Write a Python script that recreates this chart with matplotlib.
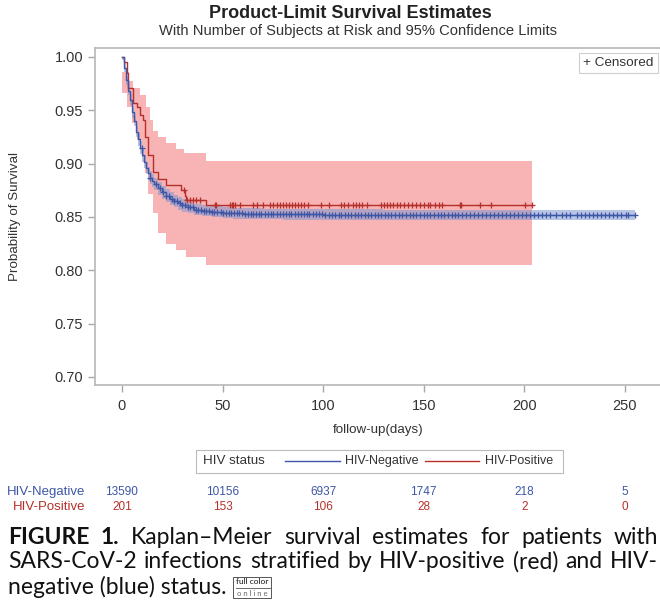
import numpy as np
import matplotlib
matplotlib.use("Agg")
import matplotlib.pyplot as plt
from matplotlib.patches import Rectangle
from matplotlib.lines import Line2D

# ---------------- data ----------------
neg_time = [0, 1, 2, 3, 4, 5, 6, 7, 8, 9, 10, 11, 12, 13, 14, 15, 16, 18, 20, 22, 24,
            26, 28, 30, 33, 36, 40, 45, 50, 55, 60, 70, 80, 100, 130, 160, 255]
neg_surv = [1.0, 0.990, 0.978, 0.968, 0.960, 0.948, 0.940, 0.930, 0.923, 0.915, 0.908,
            0.902, 0.896, 0.891, 0.887, 0.884, 0.881, 0.877, 0.873, 0.870, 0.867, 0.865,
            0.863, 0.861, 0.859, 0.857, 0.856, 0.855, 0.854, 0.8535, 0.853, 0.8527,
            0.8525, 0.8522, 0.8520, 0.8518, 0.8518]
neg_lower = [0.997, 0.986, 0.974, 0.964, 0.955, 0.943, 0.935, 0.925, 0.917, 0.909, 0.902,
             0.896, 0.890, 0.885, 0.881, 0.878, 0.875, 0.871, 0.867, 0.864, 0.861, 0.859,
             0.857, 0.855, 0.854, 0.852, 0.851, 0.850, 0.849, 0.8485, 0.848, 0.8477,
             0.8475, 0.8472, 0.8470, 0.8468, 0.8468]
neg_upper = [1.0, 0.994, 0.982, 0.972, 0.965, 0.953, 0.945, 0.935, 0.929, 0.921, 0.914,
             0.908, 0.902, 0.897, 0.893, 0.890, 0.887, 0.883, 0.879, 0.876, 0.873, 0.871,
             0.869, 0.867, 0.864, 0.862, 0.861, 0.860, 0.859, 0.8585, 0.858, 0.8577,
             0.8575, 0.8572, 0.8570, 0.8568, 0.8568]

pos_time = [0, 1, 2.3, 3, 5.5, 7.3, 9, 10.5, 11.4, 13, 15.4, 18, 22, 29.6, 31.3, 32, 42, 204]
pos_surv = [1.0, 0.995, 0.985, 0.971, 0.957, 0.953, 0.946, 0.941, 0.925, 0.908, 0.892,
            0.886, 0.880, 0.875, 0.870, 0.866, 0.861, 0.861]
pos_ci_time = [0, 2.3, 3.6, 5, 5.5, 7.3, 9, 9.8, 11.4, 12, 13, 14, 15.4, 15.5, 18, 22,
               27, 31, 32, 42, 204]
pos_upper = [0.986, 0.986, 0.977, 0.977, 0.971, 0.971, 0.964, 0.964, 0.964, 0.953, 0.953,
             0.941, 0.941, 0.931, 0.925, 0.919, 0.914, 0.910, 0.910, 0.9024, 0.9024]
pos_lower = [0.966, 0.953, 0.953, 0.938, 0.938, 0.922, 0.922, 0.906, 0.891, 0.891, 0.872,
             0.872, 0.854, 0.854, 0.835, 0.825, 0.819, 0.819, 0.8127, 0.805, 0.805]

pos_censor = [31, 32.5, 34, 35.5, 37, 38.8, 46.2, 47, 53.7, 54.5, 55.3, 56.2, 58.6, 65.3,
              67, 70.2, 73.6, 75, 76.9, 78.5, 80, 81.5, 83, 84.3, 86, 87.5, 89, 90.5, 92.5,
              99, 103, 109, 110.5, 112.5, 115, 116.5, 118, 119.5, 121.6, 129, 130.5, 132,
              133.5, 135, 136.5, 138, 140, 142, 144, 146, 148, 150, 152, 153, 155.6, 157.5,
              159, 168, 168.8, 178, 183.7, 200.6, 204]
neg_censor = [9.8, 14, 17, 19, 20.5, 22, 23.5, 25, 26, 27.5, 29, 30, 31.5, 33, 34, 35.5,
              37, 38, 39.5, 41, 42, 43.5, 45, 46, 47.5, 49, 50, 51.5, 53, 54, 55.5, 57,
              58, 59.5, 61, 62.5, 64, 65, 66.5, 68, 69, 71, 72.5, 74, 75, 77, 78.5, 80,
              81.5, 83, 84, 86, 87.5, 89, 90.5, 92, 93, 95, 96.5, 98, 99.5, 101, 103, 104.5,
              106, 108, 109, 111, 112.5, 114, 116, 117.5, 119, 121, 122.5, 124, 126, 127.5,
              129, 131, 132.5, 134, 136, 137.5, 139, 141, 143, 144.5, 146, 148, 150, 151.5,
              153, 155, 157, 158.5, 160, 162, 164, 165.5, 167, 169, 171, 173, 175, 177, 179,
              181, 183, 185, 187, 189, 191, 193, 195, 197, 199, 201, 203, 205, 207, 209, 211,
              213, 216, 219, 221, 223, 226, 228, 230, 232, 234, 236, 238, 240, 242, 244,
              246, 248, 250.5, 251.5, 255]

risk_days = [0, 50, 100, 150, 200, 250]
risk_neg = [13590, 10156, 6937, 1747, 218, 5]
risk_pos = [201, 153, 106, 28, 2, 0]

x_ticks = [0, 50, 100, 150, 200, 250]
y_ticks = [0.70, 0.75, 0.80, 0.85, 0.90, 0.95, 1.00]

# ---------------- style ----------------
BLUE = "#3D56A6"
RED = "#B5302A"
TXT = "#333333"
FONT = ["Liberation Sans", "DejaVu Sans"]
plt.rcParams["font.family"] = FONT

W, H = 660, 613
fig = plt.figure(figsize=(W / 100, H / 100), dpi=100)

def fx(px):
    return px / W

def fy(py):
    return 1 - py / H

ax = fig.add_axes([fx(95), fy(385), fx(662) - fx(95), fy(48) - fy(385)])
ax.set_xlim(-13.4, 268.5)
ax.set_ylim(0.6925, 1.0084)

# confidence bands
ax.fill_between(pos_ci_time, pos_lower, pos_upper, step="post", color="#F8B3B5",
                linewidth=0, zorder=1)
ax.fill_between(neg_time, neg_lower, neg_upper, step="post", color="#7F96D0",
                alpha=0.55, linewidth=0, zorder=2)

# KM curves
ax.step(neg_time, neg_surv, where="post", color=BLUE, lw=1.0, zorder=4)
ax.step(pos_time, pos_surv, where="post", color=RED, lw=1.0, zorder=3)

def surv_at(times, survs, t):
    idx = np.searchsorted(np.asarray(times), t, side="right") - 1
    return np.asarray(survs)[idx]

ax.plot(neg_censor, surv_at(neg_time, neg_surv, neg_censor), linestyle="none",
        marker="+", ms=5, mew=0.9, color=BLUE, zorder=5)
ax.plot(pos_censor, surv_at(pos_time, pos_surv, pos_censor), linestyle="none",
        marker="+", ms=5, mew=0.9, color=RED, zorder=5)

ax.set_xticks(x_ticks)
ax.set_yticks(y_ticks)
ax.set_yticklabels([f"{v:.2f}" for v in y_ticks])
for s in ax.spines.values():
    s.set_color("#B8B8B8")
    s.set_linewidth(1.2)
ax.tick_params(axis="both", colors="#A8A8A8", labelcolor=TXT, labelsize=10.5, length=5,
               width=1)
ax.tick_params(axis="x", pad=5)
ax.set_xlabel("follow-up(days)", fontsize=9.6, color=TXT, labelpad=8)
ax.set_ylabel("Probability of Survival", fontsize=9.6, color=TXT, labelpad=24)

# censored legend
ax.text(0.985, 0.955, "+ Censored", transform=ax.transAxes, ha="right", va="center",
        fontsize=9.7, color=TXT,
        bbox=dict(boxstyle="square,pad=0.3", fc="white", ec="#CFCFCF", lw=0.8), zorder=6)

# titles
fig.text(fx(350), fy(14), "Product-Limit Survival Estimates", ha="center", va="center",
         fontsize=13, fontweight="bold", color="#222222")
fig.text(fx(358), fy(31), "With Number of Subjects at Risk and 95% Confidence Limits",
         ha="center", va="center", fontsize=10.6, color=TXT)

# bottom legend box
fig.patches.append(Rectangle((fx(196), fy(473)), fx(563) - fx(196), fy(450) - fy(473),
                             transform=fig.transFigure, fc="white", ec="#BBBBBB", lw=0.8))
fig.text(fx(203), fy(461), "HIV status", ha="left", va="center", fontsize=9.6, color=TXT)
fig.lines.append(Line2D([fx(285), fx(340)], [fy(461), fy(461)], transform=fig.transFigure,
                        color=BLUE, lw=1.0))
fig.text(fx(345), fy(461), "HIV-Negative", ha="left", va="center", fontsize=9, color=TXT)
fig.lines.append(Line2D([fx(425), fx(479)], [fy(461), fy(461)], transform=fig.transFigure,
                        color=RED, lw=1.0))
fig.text(fx(485), fy(461), "HIV-Positive", ha="left", va="center", fontsize=9, color=TXT)

# at-risk table
trans = matplotlib.transforms.blended_transform_factory(ax.transData, fig.transFigure)
for d, n in zip(risk_days, risk_neg):
    ax.text(d, fy(492), str(n), transform=trans, ha="center", va="center", fontsize=8.5,
            color=BLUE, clip_on=False)
for d, n in zip(risk_days, risk_pos):
    ax.text(d, fy(507), str(n), transform=trans, ha="center", va="center", fontsize=8.5,
            color=RED, clip_on=False)
fig.text(fx(85), fy(492), "HIV-Negative", ha="right", va="center", fontsize=9.5, color=BLUE)
fig.text(fx(85), fy(507), "HIV-Positive", ha="right", va="center", fontsize=9.5, color=RED)

# caption (justified)
CAP_FONT = ["Lato", "DejaVu Sans"]
CAP_SIZE = 16.5
renderer = fig.canvas.get_renderer()
cap_lines = [
    [("FIGURE", "bold"), ("1.", "bold"), ("Kaplan–Meier", "normal"), ("survival", "normal"),
     ("estimates", "normal"), ("for", "normal"), ("patients", "normal"), ("with", "normal")],
    [("SARS-CoV-2", "normal"), ("infections", "normal"), ("stratified", "normal"),
     ("by", "normal"), ("HIV-positive", "normal"), ("(red)", "normal"), ("and", "normal"),
     ("HIV-", "normal")],
]
left_px, right_px = 8, 658
for li, words in enumerate(cap_lines):
    ypx = 537 + li * 25
    size = CAP_SIZE
    while True:
        texts, widths = [], []
        for w_, wt in words:
            t = fig.text(0, fy(ypx), w_, ha="left", va="center", fontsize=size,
                         fontweight=wt, family=CAP_FONT, color="#111111")
            texts.append(t)
            widths.append(t.get_window_extent(renderer).width)
        gap = (right_px - left_px - sum(widths)) / (len(words) - 1)
        if gap >= 3 or size < 10:
            break
        for t in texts:
            t.remove()
        size -= 0.25
    x = left_px
    for t, wd in zip(texts, widths):
        t.set_x(fx(x))
        x += wd + gap
t3 = fig.text(fx(8), fy(587), "negative (blue) status.", ha="left", va="center",
              fontsize=CAP_SIZE, family=CAP_FONT, color="#111111")
bb3 = t3.get_window_extent(renderer)
bx = bb3.x1 + 7
fig.patches.append(Rectangle((bx / W, fy(598)), 38 / W, 21 / H, transform=fig.transFigure,
                             fc="white", ec="#555555", lw=0.7))
fig.text((bx + 19) / W, fy(582), "full color", ha="center", va="center", fontsize=6,
         family=CAP_FONT, color="#111111")
fig.lines.append(Line2D([(bx + 2) / W, (bx + 36) / W], [fy(587.5), fy(587.5)],
                        transform=fig.transFigure, color="#555555", lw=0.6))
fig.text((bx + 19) / W, fy(593), "o n l i n e", ha="center", va="center", fontsize=5.5,
         family=CAP_FONT, color="#666666")

fig.savefig("out.png", dpi=100)
